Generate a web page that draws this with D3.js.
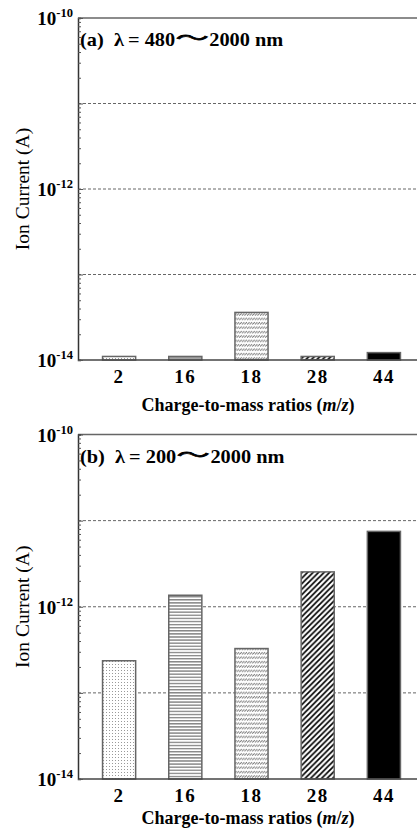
<!DOCTYPE html>
<html><head><meta charset="utf-8">
<script src="https://cdn.jsdelivr.net/npm/d3@7"></script>
<style>body{margin:0;background:#fff} svg{display:block}</style>
</head><body>
<svg id="c" width="417" height="829"></svg>
<script>
const categories = ["2", "16", "18", "28", "44"];
const valuesA = [1.1e-14, 1.1e-14, 3.6e-14, 1.1e-14, 1.22e-14];
const valuesB = [2.36e-13, 1.36e-12, 3.27e-13, 2.54e-12, 7.5e-12];
const yLabelExponents = [-10, -12, -14];
const gridValues = [1e-11, 1e-12, 1e-13];
const panelTags = ["(a)", "(b)"];
const rangeFrom = ["480", "200"];
const rangeTo = ["2000", "2000"];
const patternIds = ["pDots", "pHLines", "pDash", "pDiag", "pSolid"];
const xTitle = "Charge-to-mass ratios (";
const yTitle = "Ion Current (A)";

const svg = d3.select("#c");
const FONT = "'Liberation Serif','Times New Roman',serif";
const defs = svg.append("defs");

// patterns
const p1 = defs.append("pattern").attr("id","pDots").attr("patternUnits","userSpaceOnUse").attr("width",3).attr("height",3);
p1.append("rect").attr("width",3).attr("height",3).attr("fill","#fff");
p1.append("rect").attr("x",1).attr("y",1).attr("width",1).attr("height",1).attr("fill","#999");
const p2 = defs.append("pattern").attr("id","pHLines").attr("patternUnits","userSpaceOnUse").attr("width",4).attr("height",3.1);
p2.append("rect").attr("width",4).attr("height",3.1).attr("fill","#fff");
p2.append("line").attr("x1",0).attr("x2",4).attr("y1",1.5).attr("y2",1.5).attr("stroke","#555").attr("stroke-width",1);
const p3 = defs.append("pattern").attr("id","pDash").attr("patternUnits","userSpaceOnUse").attr("width",2.6).attr("height",4.4);
p3.append("rect").attr("width",2.6).attr("height",4.4).attr("fill","#fff");
p3.append("path").attr("d","M0,3.2 L2.6,0.9").attr("stroke","#666").attr("stroke-width",0.9);
const p4 = defs.append("pattern").attr("id","pDiag").attr("patternUnits","userSpaceOnUse").attr("width",5.5).attr("height",5.5);
p4.append("rect").attr("width",5.5).attr("height",5.5).attr("fill","#fff");
p4.append("path").attr("d","M-1,1 L1,-1 M0,5.5 L5.5,0 M4.5,6.5 L6.5,4.5").attr("stroke","#000").attr("stroke-width",1.7);
const p5 = defs.append("pattern").attr("id","pSolid").attr("patternUnits","userSpaceOnUse").attr("width",4).attr("height",4);
p5.append("rect").attr("width",4).attr("height",4).attr("fill","#000");

const left = 78, right = 417;
const x = d3.scaleBand().domain(categories).range([86, 417]).padding(0);

function panel(values, top, bottom, idx, titleOffset) {
  const g = svg.append("g");
  const y = d3.scaleLog().domain([1e-14, 1e-10]).range([bottom, top]);

  // grid
  g.selectAll(".grid").data(gridValues).enter().append("line")
    .attr("x1", left).attr("x2", right)
    .attr("y1", d => y(d)).attr("y2", d => y(d))
    .attr("stroke", "#666").attr("stroke-width", 1).attr("stroke-dasharray", "3,2");

  // bars
  const bw = x.bandwidth();
  g.selectAll(".bar").data(values).enter().append("rect")
    .attr("x", (d, i) => x(categories[i]) + bw * 0.25)
    .attr("width", bw * 0.5)
    .attr("y", d => y(d))
    .attr("height", d => y(1e-14) - y(d))
    .attr("fill", (d, i) => `url(#${patternIds[i]})`)
    .attr("stroke", "#666").attr("stroke-width", 1.5);

  // top border and bottom axis line
  g.append("line").attr("x1", left).attr("x2", right).attr("y1", top).attr("y2", top)
    .attr("stroke", "#666").attr("stroke-width", 1.5);
  g.append("line").attr("x1", left).attr("x2", right).attr("y1", bottom).attr("y2", bottom)
    .attr("stroke", "#444").attr("stroke-width", 1.5);

  // left axis with inward minor ticks
  const yAxis = d3.axisLeft(y).tickSize(-3).tickFormat("");
  const ag = g.append("g").attr("transform", `translate(${left},0)`).call(yAxis);
  ag.select(".domain").attr("stroke", "#333").attr("stroke-width", 1.5);
  ag.selectAll(".tick line").attr("stroke", "#555")
    .attr("x2", d => (Math.abs(Math.log10(d) - Math.round(Math.log10(d))) < 1e-6) ? 5 : 3);

  // y labels
  yLabelExponents.forEach(e => {
    const t = g.append("text").attr("x", 73).attr("y", y(Math.pow(10, e)) + 7)
      .attr("text-anchor", "end").attr("font-family", FONT).attr("font-weight", "bold")
      .attr("font-size", 19).attr("fill", "#000");
    t.append("tspan").text("10");
    t.append("tspan").attr("dy", -8).attr("font-size", 12.5).text(String(e));
  });

  // x labels
  const xAxis = d3.axisBottom(x).tickSize(0).tickPadding(0);
  const xg = g.append("g").attr("transform", `translate(0,${bottom})`).call(xAxis);
  xg.select(".domain").remove();
  xg.selectAll(".tick text").attr("font-family", FONT).attr("font-weight", "bold")
    .attr("font-size", 19).attr("fill", "#000").attr("letter-spacing", 1.5)
    .attr("dy", 0).attr("y", 23);

  // x title
  const xt = g.append("text").attr("x", 248).attr("y", bottom + titleOffset).attr("text-anchor", "middle")
    .attr("font-family", FONT).attr("font-weight", "bold").attr("font-size", 18).attr("fill", "#000");
  xt.append("tspan").text(xTitle);
  xt.append("tspan").attr("font-style", "italic").text("m");
  xt.append("tspan").text("/");
  xt.append("tspan").attr("font-style", "italic").text("z");
  xt.append("tspan").text(")");

  // y title
  g.append("text").attr("transform", `translate(29,${(top + bottom) / 2}) rotate(-90)`)
    .attr("text-anchor", "middle").attr("font-family", FONT).attr("font-size", 19.5).attr("fill", "#000")
    .text(yTitle);

  // panel label (slightly widened, like the reference)
  const ly = top + 28;
  const lg = g.append("g").attr("transform", `translate(80,${ly}) scale(1.1,1)`);
  const t1 = lg.append("text").attr("x", 0).attr("y", 0).attr("font-family", FONT)
    .attr("font-weight", "bold").attr("font-size", 18.5).attr("fill", "#000")
    .text(`${panelTags[idx]}\u00A0\u00A0\u03BB\u2009=\u00A0${rangeFrom[idx]}`);
  const w1 = t1.node().getComputedTextLength();
  lg.append("text").attr("x", w1 + 0.5).attr("y", -1)
    .attr("font-family", "'Noto Sans CJK SC', 'DejaVu Sans', sans-serif")
    .attr("font-size", 19).attr("fill", "#000").attr("stroke", "#000").attr("stroke-width", 0.8)
    .attr("textLength", 30).attr("lengthAdjust", "spacingAndGlyphs")
    .text("\u301C");
  lg.append("text").attr("x", w1 + 31).attr("y", 0).attr("font-family", FONT)
    .attr("font-weight", "bold").attr("font-size", 18.5).attr("fill", "#000")
    .text(`${rangeTo[idx]} nm`);
}

panel(valuesA, 18, 360, 0, 51);
panel(valuesB, 434.5, 779, 1, 45);
</script>
</body></html>
